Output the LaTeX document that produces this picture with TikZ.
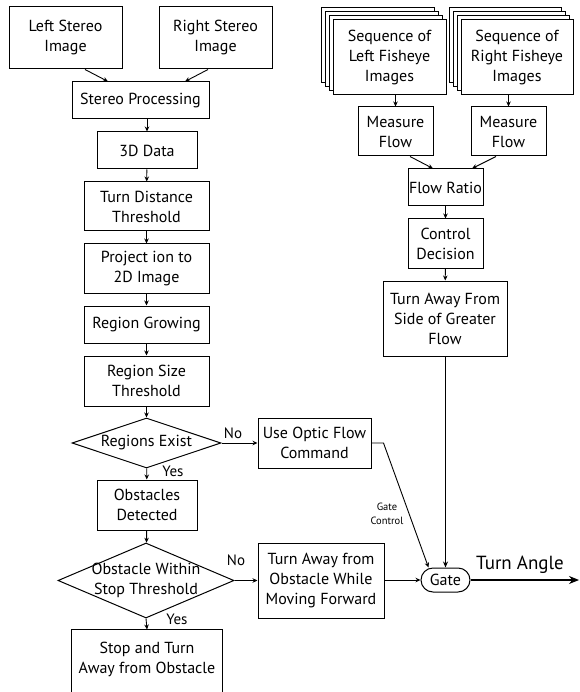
\documentclass[tikz,border=0pt]{standalone}
\usepackage{fontspec}
\setmainfont{PT Sans}
\usetikzlibrary{shapes.geometric,arrows.meta,calc}
\begin{document}
\begin{tikzpicture}[x=1pt,y=-1pt,
  box/.style={draw, line width=1pt, fill=white, align=center, inner sep=1pt, font=\fontsize{16}{20}\selectfont},
  dia/.style={draw, diamond, line width=1pt, inner sep=0pt},
  arr/.style={-{Stealth[length=5pt,width=4.5pt]}, line width=0.9pt},
  lbl/.style={font=\fontsize{15}{17}\selectfont, inner sep=0pt},
  dtext/.style={align=center, font=\fontsize{16}{20}\selectfont, inner sep=0pt}
]
\useasboundingbox (0,0) rectangle (579,692);

% left column
\node[box, minimum width=113pt, minimum height=62pt] (lsi) at (65.5,38) {Left Stereo\\Image};
\node[box, minimum width=113pt, minimum height=62pt] (rsi) at (215.5,38) {Right Stereo\\Image};
\node[box, minimum width=137pt, minimum height=37pt] (sp) at (140.5,100.5) {Stereo Processing};
\node[box, minimum width=100pt, minimum height=37pt] (d3) at (147,150.5) {3D Data};
\node[box, minimum width=125pt, minimum height=49pt] (tdt) at (146.5,206.5) {Turn Distance\\Threshold};
\node[box, minimum width=125pt, minimum height=49pt] (proj) at (146.5,268.5) {Project ion to\\2D Image};
\node[box, minimum width=125pt, minimum height=37pt] (rg) at (146.5,324.5) {Region Growing};
\node[box, minimum width=125pt, minimum height=50pt] (rst) at (146.5,381) {Region Size\\Threshold};
\node[dia, minimum width=149pt, minimum height=50pt, label={[dtext]center:Regions Exist}] (re) at (146.5,443) {};
\node[box, minimum width=100pt, minimum height=50pt] (od) at (147,505) {Obstacles\\Detected};
\node[dia, minimum width=176pt, minimum height=75pt, label={[dtext]center:Obstacle Within\\Stop Threshold}] (ow) at (146,580.5) {};
\node[box, draw=none, fill=none, minimum width=150pt, minimum height=58pt] (stop) at (147,659) {Stop and Turn\\Away from Obstacle};
\draw[line width=1pt] (stop.south west) ++(0,14) |- (stop.north east) -- ++(0,72);

% middle
\node[box, minimum width=113pt, minimum height=50pt] (uof) at (314.5,443) {Use Optic Flow\\Command};
\node[box, minimum width=126pt, minimum height=75pt] (ta) at (321,580.5) {Turn Away from\\Obstacle While\\Moving Forward};
\node[draw, line width=1pt, rounded corners=12pt, minimum width=49pt, minimum height=24pt, inner sep=0pt, font=\fontsize{16}{18}\selectfont] (gate) at (445.5,580) {Gate};

% right column
\foreach \k in {3,2,1} {
  \draw[line width=1pt, fill=white] (333-4*\k,20-4*\k) rectangle (446-4*\k,95-4*\k);
  \draw[line width=1pt, fill=white] (461-4*\k,20-4*\k) rectangle (573-4*\k,95-4*\k);
}
\node[box, minimum width=113pt, minimum height=75pt] (lf) at (389.5,57.5) {Sequence of\\Left Fisheye\\Images};
\node[box, minimum width=112pt, minimum height=75pt] (rf) at (517,57.5) {Sequence of\\Right Fisheye\\Images};
\node[box, minimum width=75pt, minimum height=49pt] (mfl) at (395.5,131.5) {Measure\\Flow};
\node[box, minimum width=75pt, minimum height=49pt] (mfr) at (508.5,131.5) {Measure\\Flow};
\node[box, minimum width=75pt, minimum height=37pt] (fr) at (445.5,187.5) {Flow Ratio};
\node[box, minimum width=75pt, minimum height=49pt] (cd) at (445.5,243.5) {Control\\Decision};
\node[box, minimum width=124pt, minimum height=75pt] (tag) at (445,318.5) {Turn Away From\\Side of Greater\\Flow};

% connectors left
\draw[arr] ($(lsi.south)+(19.5,0)$) -- ($(sp.north)+(-32.5,0)$);
\draw[arr] ($(rsi.south)+(-7.5,0)$) -- ($(sp.north)+(44.5,0)$);
\draw[arr] (sp.south -| d3.north) -- (d3.north);
\draw[arr] (d3) -- (tdt);
\draw[arr] (tdt) -- (proj);
\draw[arr] (proj) -- (rg);
\draw[arr] (rg) -- (rst);
\draw[arr] (rst) -- (re);
\draw[arr] (re) -- (od);
\draw[arr] (od) -- (ow);
\draw[arr] (ow.south) -- (stop.north);
\draw[arr] (re.east) -- (uof.west);
\draw[arr] (ow.east) -- (ta.west);
\draw[arr] (ta.east |- gate.west) -- (gate.west);
\node[lbl] (no1) at (233,433) {No};
\node[lbl] (yes1) at (173,471) {Yes};
\node[lbl] (no2) at (236,560) {No};
\node[lbl] (yes2) at (177,619) {Yes};

% connectors right
\draw[arr] (lf.south -| mfl.north) -- (mfl.north);
\draw[arr] (rf.south -| mfr.north) -- (mfr.north);
\draw[arr] ($(mfl.south)+(14.5,0)$) -- ($(fr.north)+(-12.5,0)$);
\draw[arr] ($(mfr.south)+(-12.5,0)$) -- ($(fr.north)+(26.5,0)$);
\draw[arr] (fr) -- (cd);
\draw[arr] (cd) -- (tag);
\draw[-{Stealth[length=6pt,width=5pt]}, line width=1.7pt] (tag.south -| gate.north) -- (gate.north);

% gate control
\draw[arr] (uof.east) -- ++(12,0) -- ($(gate.north west)+(8,0)$);
\node[align=center, font=\fontsize{10.5}{13.5}\selectfont, inner sep=0pt] (gcl) at (387,514) {Gate\\Control};

% output
\coordinate (out) at (579,580);
\draw[-{Stealth[length=10pt,width=8pt]}, line width=1.1pt] (gate.east) -- (out);
\node[font=\fontsize{19}{21}\selectfont, inner sep=0pt] (tal) at (520,565) {Turn Angle};
\end{tikzpicture}
\end{document}
